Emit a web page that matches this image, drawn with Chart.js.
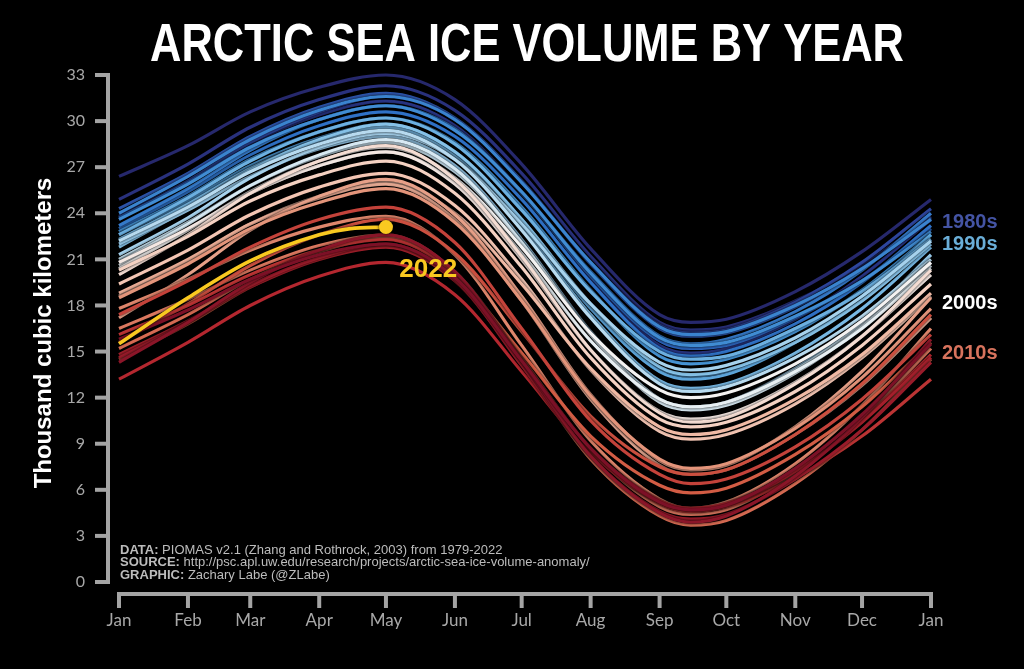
<!DOCTYPE html>
<html>
<head>
<meta charset="utf-8">
<script src="https://cdn.jsdelivr.net/npm/chart.js@4/dist/chart.umd.min.js"></script>
<style>
  html, body { margin: 0; padding: 0; background: #000; }
  canvas { display: block; background: #000; }
</style>
</head>
<body>
<canvas id="iceChart" width="1024" height="669"></canvas>
<script>
// day of year for each sample: Jan 1 .. Sep 1, Sep 15, Oct 1 .. Jan 1
const sampleDays = [0, 31, 59, 90, 120, 151, 181, 212, 243, 257, 273, 304, 334, 365];
const monthDays = [0, 31, 59, 90, 120, 151, 181, 212, 243, 273, 304, 334, 365];
const monthNames = ['Jan', 'Feb', 'Mar', 'Apr', 'May', 'Jun', 'Jul', 'Aug', 'Sep', 'Oct', 'Nov', 'Dec', 'Jan'];
const yTicks = [0, 3, 6, 9, 12, 15, 18, 21, 24, 27, 30, 33];

// thousand km3
const v1979 = [26.4, 28.4, 30.6, 32.2, 33.0, 31.4, 27.2, 21.7, 17.4, 16.9, 17.1, 18.9, 21.5, 24.9];
const v1980 = [24.9, 27.2, 29.6, 31.4, 32.3, 30.7, 26.6, 21.2, 16.9, 16.4, 16.6, 18.3, 20.6, 23.8];
const v1981 = [23.8, 26.1, 28.5, 30.4, 31.3, 29.7, 25.4, 19.8, 15.4, 14.9, 15.2, 17.1, 19.9, 23.6];
const v1982 = [23.6, 26.1, 28.6, 30.6, 31.6, 30.1, 26.1, 20.8, 16.7, 16.2, 16.4, 18.2, 20.8, 24.3];
const v1983 = [24.3, 26.6, 29.0, 30.9, 31.8, 30.2, 26.1, 20.7, 16.5, 16.0, 16.2, 17.9, 20.4, 23.7];
const v1984 = [23.7, 26.0, 28.3, 30.1, 31.0, 29.4, 25.3, 19.9, 15.7, 15.2, 15.4, 17.2, 19.6, 23.0];
const v1985 = [23.0, 25.4, 27.8, 29.7, 30.6, 29.0, 24.9, 19.5, 15.2, 14.7, 15.0, 16.8, 19.5, 23.2];
const v1986 = [23.2, 25.6, 28.1, 30.1, 31.0, 29.5, 25.4, 20.2, 16.0, 15.5, 15.8, 17.6, 20.3, 24.0];
const v1987 = [24.0, 26.4, 28.8, 30.7, 31.6, 30.1, 26.0, 20.8, 16.6, 16.1, 16.3, 18.0, 20.4, 23.6];
const v1988 = [23.6, 25.9, 28.3, 30.1, 31.0, 29.4, 25.4, 20.1, 15.9, 15.4, 15.6, 17.3, 19.6, 22.8];
const v1989 = [22.8, 25.1, 27.5, 29.3, 30.2, 28.6, 24.4, 19.0, 14.7, 14.2, 14.5, 16.3, 19.0, 22.6];
const v1990 = [22.6, 24.8, 27.1, 28.9, 29.8, 28.0, 23.6, 18.0, 13.9, 13.4, 13.7, 15.6, 18.4, 22.2];
const v1991 = [22.2, 24.5, 26.9, 28.7, 29.6, 27.8, 23.4, 17.8, 13.7, 13.2, 13.5, 15.6, 18.6, 22.6];
const v1992 = [22.6, 25.0, 27.4, 29.3, 30.2, 28.5, 24.2, 18.9, 15.0, 14.5, 14.7, 16.5, 18.9, 22.3];
const v1993 = [22.3, 24.6, 26.9, 28.7, 29.6, 27.7, 23.1, 17.4, 13.1, 12.6, 12.9, 14.9, 17.8, 21.8];
const v1994 = [21.8, 24.3, 26.8, 28.8, 29.8, 28.0, 23.6, 18.1, 14.0, 13.5, 13.8, 15.6, 18.3, 22.0];
const v1995 = [22.0, 24.2, 26.4, 28.2, 29.0, 27.1, 22.3, 16.3, 11.9, 11.4, 11.7, 13.9, 17.0, 21.3];
const v1996 = [21.3, 23.7, 26.3, 28.3, 29.2, 27.5, 23.3, 18.1, 14.3, 13.8, 14.1, 15.9, 18.6, 22.2];
const v1997 = [22.2, 24.4, 26.7, 28.5, 29.4, 27.5, 22.9, 17.2, 12.9, 12.4, 12.7, 14.6, 17.3, 21.0];
const v1998 = [21.0, 23.4, 25.8, 27.7, 28.6, 26.7, 22.1, 16.2, 11.9, 11.4, 11.7, 13.8, 16.8, 20.8];
const v1999 = [20.8, 23.3, 25.8, 27.8, 28.8, 26.9, 22.1, 16.1, 11.7, 11.2, 11.5, 13.6, 16.6, 20.6];
const v2000 = [20.6, 22.9, 25.3, 27.1, 28.0, 26.0, 21.4, 15.7, 11.9, 11.4, 11.7, 13.7, 16.5, 20.4];
const v2001 = [20.4, 22.9, 25.4, 27.4, 28.3, 26.3, 21.8, 16.2, 12.5, 12.0, 12.3, 14.2, 17.0, 20.8];
const v2002 = [20.8, 23.0, 25.3, 27.1, 28.0, 25.9, 21.0, 15.1, 11.1, 10.6, 10.9, 13.0, 16.0, 20.0];
const v2003 = [20.0, 22.6, 25.3, 27.4, 28.4, 26.2, 21.2, 15.1, 11.0, 10.4, 10.7, 12.9, 16.0, 20.3];
const v2004 = [20.3, 22.5, 24.8, 26.5, 27.4, 25.3, 20.5, 14.6, 10.6, 10.1, 10.4, 12.4, 15.4, 19.4];
const v2005 = [19.4, 21.6, 23.9, 25.7, 26.6, 24.5, 19.7, 13.8, 9.8, 9.3, 9.6, 11.6, 14.6, 18.6];
const v2006 = [18.6, 20.9, 23.3, 25.1, 26.0, 24.0, 19.4, 13.9, 10.1, 9.6, 9.9, 11.9, 14.8, 18.8];
const v2007 = [18.8, 21.0, 23.3, 25.0, 25.9, 23.6, 18.3, 11.9, 7.6, 7.0, 7.3, 9.6, 12.8, 17.2];
const v2008 = [17.2, 20.0, 22.9, 25.1, 26.2, 23.9, 18.6, 12.2, 7.9, 7.3, 7.6, 10.1, 13.7, 18.5];
const v2009 = [18.5, 20.7, 23.0, 24.7, 25.6, 23.4, 18.3, 12.1, 8.0, 7.4, 7.7, 10.0, 13.3, 17.8];
const v2010 = [17.8, 19.7, 21.6, 23.1, 23.8, 21.3, 15.4, 9.2, 5.4, 4.8, 5.2, 7.7, 11.5, 16.5];
const v2011 = [16.5, 18.4, 20.3, 21.9, 22.6, 20.2, 14.6, 8.6, 4.9, 4.4, 4.7, 7.1, 10.6, 15.2];
const v2012 = [15.2, 17.4, 19.7, 21.5, 22.4, 20.0, 14.2, 8.0, 4.3, 3.7, 4.0, 6.4, 9.9, 14.5];
const v2013 = [14.5, 16.8, 19.2, 21.1, 22.0, 19.9, 14.9, 9.5, 6.3, 5.8, 6.1, 8.3, 11.4, 15.6];
const v2014 = [15.6, 18.1, 20.6, 22.6, 23.6, 21.4, 16.3, 10.8, 7.5, 7.0, 7.3, 9.6, 12.9, 17.4];
const v2015 = [17.4, 19.6, 21.8, 23.6, 24.4, 22.1, 16.5, 10.5, 7.0, 6.4, 6.7, 8.8, 11.9, 16.1];
const v2016 = [16.1, 18.0, 20.0, 21.6, 22.3, 20.0, 14.5, 8.7, 5.1, 4.6, 4.9, 6.8, 9.5, 13.2];
const v2017 = [13.2, 15.6, 18.0, 19.9, 20.8, 18.7, 13.7, 8.4, 5.2, 4.7, 5.0, 7.2, 10.5, 14.8];
const v2018 = [14.8, 17.0, 19.2, 21.0, 21.8, 19.6, 14.3, 8.7, 5.3, 4.8, 5.1, 7.2, 10.4, 14.6];
const v2019 = [14.6, 16.9, 19.3, 21.1, 22.0, 19.7, 14.1, 8.2, 4.6, 4.1, 4.4, 6.7, 9.9, 14.3];
const v2020 = [14.3, 16.9, 19.5, 21.6, 22.6, 20.2, 14.4, 8.2, 4.5, 3.9, 4.3, 6.9, 10.7, 15.8];
const v2021 = [15.8, 17.7, 19.7, 21.3, 22.0, 19.8, 14.4, 8.7, 5.2, 4.7, 5.0, 7.4, 10.9, 15.5];

// 2022 so far (up to end of April)
const days2022 = [0, 31, 59, 90, 104, 120];
const v2022 = [15.5, 18.5, 20.9, 22.6, 23.0, 23.1];

const pastYears = [1979, 1980, 1981, 1982, 1983, 1984, 1985, 1986, 1987, 1988, 1989,
  1990, 1991, 1992, 1993, 1994, 1995, 1996, 1997, 1998, 1999,
  2000, 2001, 2002, 2003, 2004, 2005, 2006, 2007, 2008, 2009,
  2010, 2011, 2012, 2013, 2014, 2015, 2016, 2017, 2018, 2019, 2020, 2021];
const pastValues = [v1979, v1980, v1981, v1982, v1983, v1984, v1985, v1986, v1987, v1988, v1989,
  v1990, v1991, v1992, v1993, v1994, v1995, v1996, v1997, v1998, v1999,
  v2000, v2001, v2002, v2003, v2004, v2005, v2006, v2007, v2008, v2009,
  v2010, v2011, v2012, v2013, v2014, v2015, v2016, v2017, v2018, v2019, v2020, v2021];

const decadeLabels = [
  { text: '1980s', value: 23.4, color: '#4454a4' },
  { text: '1990s', value: 22.0, color: '#6aaed8' },
  { text: '2000s', value: 18.1, color: '#ffffff' },
  { text: '2010s', value: 14.9, color: '#d8735d' }
];

// blue -> white -> red by year
const colorStops = [
  [0.00, [38, 40, 108]],
  [0.06, [46, 62, 150]],
  [0.13, [44, 108, 196]],
  [0.24, [70, 150, 215]],
  [0.35, [128, 190, 230]],
  [0.45, [198, 226, 242]],
  [0.52, [244, 244, 244]],
  [0.61, [244, 202, 184]],
  [0.71, [228, 150, 124]],
  [0.81, [210, 92, 68]],
  [0.91, [178, 36, 46]],
  [1.00, [124, 16, 38]]
];
function yearColor(year) {
  const t = (year - 1979) / (2021 - 1979);
  for (let i = 1; i < colorStops.length; i++) {
    if (t <= colorStops[i][0]) {
      const [t0, c0] = colorStops[i - 1];
      const [t1, c1] = colorStops[i];
      const f = (t - t0) / (t1 - t0);
      const c = c0.map((v, k) => Math.round(v + (c1[k] - v) * f));
      return `rgb(${c[0]}, ${c[1]}, ${c[2]})`;
    }
  }
  return 'rgb(124, 16, 38)';
}

const yellow = '#f9c920';
const axisGrey = '#a4a4a4';
const tickGrey = '#a8a8a8';

const datasets = pastYears.map((year, i) => ({
  label: String(year),
  data: sampleDays.map((d, k) => ({ x: d, y: pastValues[i][k] })),
  borderColor: yearColor(year),
  borderWidth: 3.2,
  pointRadius: 0,
  cubicInterpolationMode: 'monotone',
  clip: false,
  order: 2022 - year
}));
datasets.push({
  label: '2022',
  data: days2022.map((d, k) => ({ x: d, y: v2022[k] })),
  borderColor: yellow,
  borderWidth: 3.6,
  pointRadius: days2022.map((d, k) => (k === days2022.length - 1 ? 7 : 0)),
  pointBackgroundColor: yellow,
  pointBorderWidth: 0,
  cubicInterpolationMode: 'monotone',
  clip: false,
  order: 0
});

// dark halo behind each line so they separate like the original
const lineHalo = {
  id: 'lineHalo',
  beforeDatasetDraw(chart) {
    const ctx = chart.ctx;
    ctx.save();
    ctx.shadowColor = 'rgba(0, 0, 0, 0.9)';
    ctx.shadowBlur = 3;
  },
  afterDatasetDraw(chart) {
    chart.ctx.restore();
  }
};

const decorations = {
  id: 'decorations',
  afterDraw(chart) {
    const { ctx, chartArea: a, scales: { x, y } } = chart;
    ctx.save();

    // axes drawn detached from the plot, like the original
    ctx.strokeStyle = axisGrey;
    ctx.lineWidth = 4;
    const axisX = a.left - 11;
    ctx.beginPath();
    ctx.moveTo(axisX, y.getPixelForValue(33) - 2);
    ctx.lineTo(axisX, y.getPixelForValue(0) + 2);
    ctx.stroke();
    yTicks.forEach(v => {
      const p = y.getPixelForValue(v);
      ctx.beginPath();
      ctx.moveTo(axisX - 13, p);
      ctx.lineTo(axisX, p);
      ctx.stroke();
    });
    const axisY = a.bottom + 12;
    ctx.beginPath();
    ctx.moveTo(x.getPixelForValue(0) - 2, axisY);
    ctx.lineTo(x.getPixelForValue(365) + 2, axisY);
    ctx.stroke();
    monthDays.forEach(d => {
      const p = x.getPixelForValue(d);
      ctx.beginPath();
      ctx.moveTo(p, axisY);
      ctx.lineTo(p, axisY + 14);
      ctx.stroke();
    });

    // title
    ctx.fillStyle = '#ffffff';
    ctx.textAlign = 'center';
    ctx.textBaseline = 'alphabetic';
    ctx.font = 'bold 53px "Liberation Sans", Arial, sans-serif';
    ctx.fillText('ARCTIC SEA ICE VOLUME BY YEAR', 527, 61, 754);

    // y axis title
    ctx.save();
    ctx.translate(44, 333);
    ctx.rotate(-Math.PI / 2);
    ctx.textBaseline = 'middle';
    ctx.font = 'bold 24px "Liberation Sans", Arial, sans-serif';
    ctx.fillText('Thousand cubic kilometers', 0, 0, 326);
    ctx.restore();

    // decade labels at the right end
    ctx.textAlign = 'left';
    ctx.textBaseline = 'middle';
    ctx.font = 'bold 20px "Liberation Sans", Arial, sans-serif';
    decadeLabels.forEach(l => {
      ctx.fillStyle = l.color;
      ctx.fillText(l.text, a.right + 11, y.getPixelForValue(l.value));
    });

    // 2022 label
    ctx.fillStyle = yellow;
    ctx.font = 'bold 26px "Liberation Sans", Arial, sans-serif';
    ctx.fillText('2022', x.getPixelForValue(126), y.getPixelForValue(20.3));

    // credits
    const credits = [
      ['DATA:', ' PIOMAS v2.1 (Zhang and Rothrock, 2003) from 1979-2022'],
      ['SOURCE:', ' http://psc.apl.uw.edu/research/projects/arctic-sea-ice-volume-anomaly/'],
      ['GRAPHIC:', ' Zachary Labe (@ZLabe)']
    ];
    ctx.fillStyle = '#bcbcbc';
    credits.forEach((c, i) => {
      const ty = 550 + i * 12.5;
      ctx.font = 'bold 13px "Liberation Sans", Arial, sans-serif';
      ctx.fillText(c[0], 120, ty);
      const w = ctx.measureText(c[0]).width;
      ctx.font = '13px "Liberation Sans", Arial, sans-serif';
      ctx.fillText(c[1], 120 + w, ty);
    });

    ctx.restore();
  }
};

const chart = new Chart(document.getElementById('iceChart'), {
  type: 'line',
  data: { datasets },
  options: {
    responsive: false,
    animation: false,
    devicePixelRatio: 1,
    layout: { padding: { top: 75, right: 93, left: 0, bottom: 0 } },
    plugins: {
      legend: { display: false },
      tooltip: { enabled: false },
      title: { display: false }
    },
    scales: {
      x: {
        type: 'linear',
        min: 0,
        max: 365,
        grid: { display: false, drawTicks: false },
        border: { display: false },
        afterBuildTicks: s => { s.ticks = monthDays.map(v => ({ value: v })); },
        afterFit: s => { s.height = 87; },
        ticks: {
          autoSkip: false,
          maxRotation: 0,
          padding: 28,
          color: tickGrey,
          font: { family: 'Lato, "DejaVu Sans", sans-serif', size: 17 },
          callback: (v, i) => monthNames[i]
        }
      },
      y: {
        min: 0,
        max: 33,
        grid: { display: false, drawTicks: false },
        border: { display: false },
        afterFit: s => { s.width = 119; },
        ticks: {
          stepSize: 3,
          autoSkip: false,
          padding: 34,
          color: tickGrey,
          font: { family: 'Lato, "DejaVu Sans", sans-serif', size: 16 }
        }
      }
    }
  },
  plugins: [lineHalo, decorations]
});
</script>
</body>
</html>
